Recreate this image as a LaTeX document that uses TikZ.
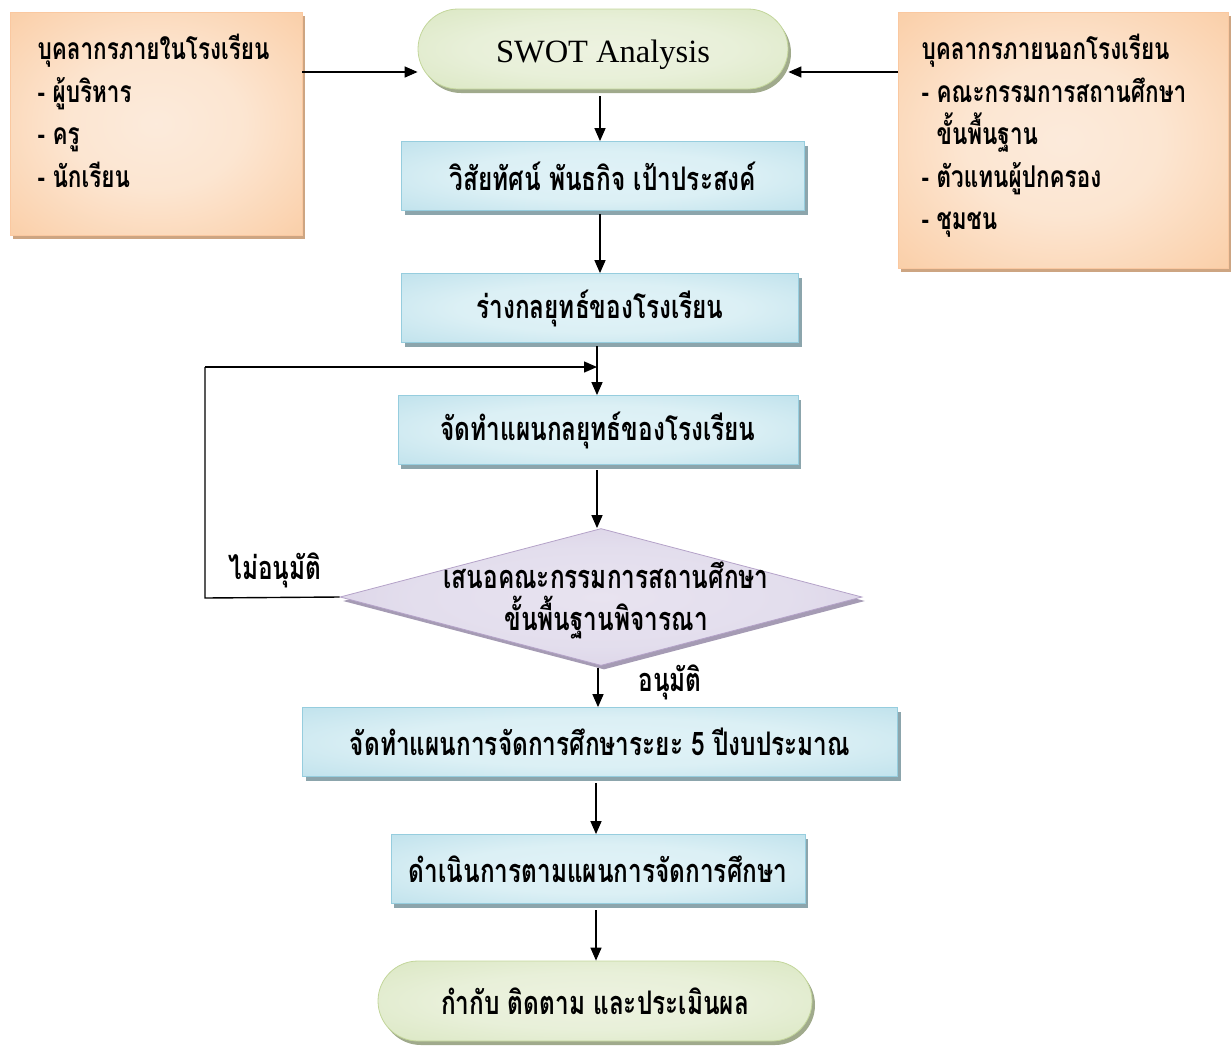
\documentclass[tikz,border=0pt]{standalone}
\usepackage{fontspec}
\setmainfont{Liberation Serif}
\newfontfamily\thai[Script=Thai, FakeStretch=0.75]{Loma}
\usetikzlibrary{shapes.misc,shapes.geometric,shadows,arrows.meta}
\definecolor{oline}{RGB}{250,200,160}
\definecolor{oshad}{RGB}{205,165,130}
\definecolor{bline}{RGB}{150,205,222}
\definecolor{bshad}{RGB}{140,165,172}
\definecolor{gout}{RGB}{195,214,155}
\definecolor{gshad}{RGB}{160,170,140}
\definecolor{pline}{RGB}{180,162,200}
\definecolor{pshad}{RGB}{165,155,180}
\pgfdeclareradialshading{oshade}{\pgfpoint{0bp}{0bp}}{rgb(0bp)=(0.99,0.92,0.86); rgb(15bp)=(0.99,0.90,0.82); rgb(38bp)=(0.98,0.80,0.64); rgb(60bp)=(0.975,0.74,0.55)}
\pgfdeclareradialshading{bshade}{\pgfpoint{0bp}{0bp}}{rgb(0bp)=(0.88,0.95,0.97); rgb(18bp)=(0.86,0.94,0.96); rgb(45bp)=(0.70,0.86,0.91); rgb(70bp)=(0.58,0.80,0.87)}
\pgfdeclareradialshading{gshade}{\pgfpoint{0bp}{0bp}}{rgb(0bp)=(0.93,0.95,0.88); rgb(18bp)=(0.91,0.94,0.85); rgb(45bp)=(0.83,0.89,0.72); rgb(70bp)=(0.77,0.84,0.61)}
\pgfdeclareradialshading{pshade}{\pgfpoint{0bp}{0bp}}{rgb(0bp)=(0.91,0.89,0.94); rgb(18bp)=(0.89,0.87,0.93); rgb(40bp)=(0.83,0.79,0.88); rgb(70bp)=(0.78,0.73,0.85)}
\begin{document}
\begin{tikzpicture}[x=1pt,y=-1pt,
  txt/.style={font=\thai\bfseries\fontsize{32.5}{42}\selectfont},
  sidetxt/.style={font=\thai\bfseries\fontsize{30}{42.5}\selectfont},
  orangebox/.style={rectangle, draw=oline, line width=0.8pt, shading=oshade,
    drop shadow={shadow xshift=3pt, shadow yshift=-4pt, fill=oshad, opacity=1},
    minimum width=#1, inner sep=0pt},
  bluebox/.style={rectangle, draw=bline, line width=0.8pt, shading=bshade,
    drop shadow={shadow xshift=3pt, shadow yshift=-4pt, fill=bshad, opacity=1},
    minimum width=#1, minimum height=69pt, inner sep=0pt, txt},
  greenbox/.style={rounded rectangle, draw=gout, line width=0.8pt, shading=gshade,
    drop shadow={shadow xshift=3pt, shadow yshift=-4pt, fill=gshad, opacity=1},
    minimum width=#1, minimum height=80pt, inner sep=0pt},
  arr/.style={line width=1.4pt, -{Triangle[length=13pt,width=11pt]}},
  ln/.style={line width=1.4pt}
]
\useasboundingbox (0,0) rectangle (1232,1050);

% side boxes
\node[orangebox=292pt, minimum height=223pt] (L) at (156,123.5) {};
\node[sidetxt, anchor=north west, align=left] (Lt) at (34,31)
  {บุคลากรภายในโรงเรียน\\- ผู้บริหาร\\- ครู\\- นักเรียน};
\node[orangebox=330pt, minimum height=256pt] (R) at (1063,140) {};
\node[sidetxt, anchor=north west, align=left] (Rt) at (918,31)
  {บุคลากรภายนอกโรงเรียน\\- คณะกรรมการสถานศึกษา\\\phantom{- }ขั้นพื้นฐาน\\- ตัวแทนผู้ปกครอง\\- ชุมชน};

% main flow
\node[greenbox=370pt, font=\fontsize{32.5}{36}\selectfont] (swot) at (603,49) {\raisebox{-13pt}[0pt][0pt]{SWOT Analysis}};
\node[bluebox=403pt] (b1) at (603,176) {วิสัยทัศน์ พันธกิจ เป้าประสงค์};
\node[bluebox=397pt] (b2) at (600,308) {ร่างกลยุทธ์ของโรงเรียน};
\node[bluebox=400pt] (b3) at (598,430) {จัดทำแผนกลยุทธ์ของโรงเรียน};
\node[diamond, draw=pline, line width=0.8pt, shading=pshade,
  drop shadow={shadow xshift=3pt, shadow yshift=-4pt, fill=pshad, opacity=1},
  minimum width=522pt, minimum height=137pt, inner sep=0pt] (dec) at (601,597) {};
\node[txt, align=center] (dect) at (606,600) {เสนอคณะกรรมการสถานศึกษา\\ขั้นพื้นฐานพิจารณา};
\node[bluebox=595pt] (b4) at (600,742) {จัดทำแผนการจัดการศึกษาระยะ 5 ปีงบประมาณ};
\node[bluebox=414pt] (b5) at (598,869) {ดำเนินการตามแผนการจัดการศึกษา};
\node[greenbox=434pt, txt] (end) at (595,1001) {กำกับ ติดตาม และประเมินผล};

% labels
\node[txt] (no) at (275,570) {ไม่อนุมัติ};
\node[txt] (yes) at (670,682) {อนุมัติ};

% connectors
\coordinate (Lout) at (302,72);
\coordinate (Rout) at (898,72);
\draw[arr] (Lout) -- (swot.west |- Lout);
\draw[arr] (Rout) -- (swot.east |- Rout);
\draw[arr] (600,96) -- (b1.north -| 600,0);
\draw[arr] (600,214) -- (b2.north -| 600,0);
\draw[arr] (597,346) -- (b3.north -| 597,0);
\coordinate (loopA) at (205,598);
\coordinate (loopB) at (205,367);
\coordinate (loopC) at (597,367);
\draw[ln] (dec.west) -- (loopA) -- (loopB);
\draw[arr] (loopB) -- (loopC);
\draw[arr] (597,470) -- (dec.north -| 597,0);
\draw[arr] (598,668) -- (b4.north -| 598,0);
\draw[arr] (596,783) -- (b5.north -| 596,0);
\draw[arr] (596,910) -- (end.north -| 596,0);
\end{tikzpicture}
\end{document}
